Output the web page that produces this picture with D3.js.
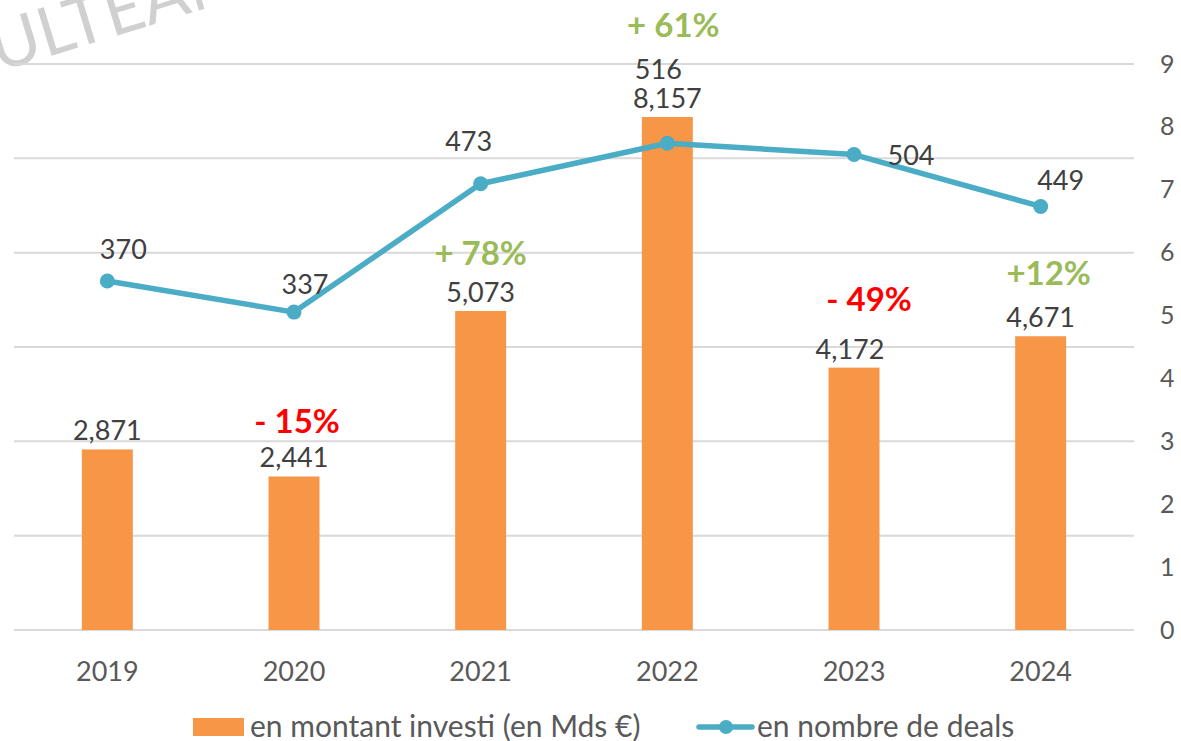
<!DOCTYPE html>
<html>
<head>
<meta charset="utf-8">
<script src="https://cdn.jsdelivr.net/npm/d3@7"></script>
<style>
  body { margin: 0; background: #fff; }
  svg text { font-family: Lato, "Open Sans", sans-serif; }
</style>
</head>
<body>
<div id="chart"></div>
<script>
// Data
var years = ["2019", "2020", "2021", "2022", "2023", "2024"];
var amounts = [2.871, 2.441, 5.073, 8.157, 4.172, 4.671];
var amountLabels = ["2,871", "2,441", "5,073", "8,157", "4,172", "4,671"];
var deals = [370, 337, 473, 516, 504, 449];
var growth = ["", "- 15%", "+ 78%", "+ 61%", "- 49%", "+12%"];
var rightTicks = [0, 1, 2, 3, 4, 5, 6, 7, 8, 9];
var dealGrid = [0, 100, 200, 300, 400, 500, 600];

var width = 1181;
var height = 741;
var plotLeft = 14, plotRight = 1134, plotTop = 64, plotBottom = 630;

var barColor = "#F79646";
var lineColor = "#4BACC6";
var textColor = "#404040";

var svg = d3.select("#chart").append("svg")
  .attr("width", width)
  .attr("height", height);

// watermark
svg.append("text")
  .attr("transform", "translate(-2,72) rotate(-17)")
  .attr("font-size", "68px")
  .attr("fill", "#d0d0d0")
  .text("ULTEAM");

/* Scales */
var xScale = d3.scaleBand()
  .domain(years)
  .range([plotLeft, plotRight]);

var yRight = d3.scaleLinear()
  .domain([0, 9])
  .range([plotBottom, plotTop]);

var yDeals = d3.scaleLinear()
  .domain([0, 600])
  .range([plotBottom, plotTop]);

// gridlines (primary axis, hidden labels)
svg.append("g").selectAll("line")
  .data(dealGrid).enter()
  .append("line")
  .attr("x1", plotLeft)
  .attr("x2", plotRight)
  .attr("y1", d => yDeals(d))
  .attr("y2", d => yDeals(d))
  .attr("stroke", "#d9d9d9")
  .attr("stroke-width", 2);

// right axis
var rightAxis = d3.axisRight(yRight).tickValues(rightTicks).tickSize(0).tickPadding(26);
var rightGroup = svg.append("g")
  .attr("transform", `translate(${plotRight}, 0)`)
  .call(rightAxis);
rightGroup.select(".domain").remove();
rightGroup.selectAll("text")
  .attr("font-size", "25px")
  .attr("fill", "#595959")
  .attr("font-family", "Lato, sans-serif");

// x axis
var xAxis = d3.axisBottom(xScale).tickSize(0).tickPadding(32);
var xGroup = svg.append("g")
  .attr("transform", `translate(0, ${plotBottom})`)
  .call(xAxis);
xGroup.select(".domain").remove();
xGroup.selectAll("text")
  .attr("font-size", "27px")
  .attr("fill", "#595959")
  .attr("font-family", "Lato, sans-serif");

var barW = 51;

// bars
svg.append("g").selectAll("rect")
  .data(amounts).enter()
  .append("rect")
  .attr("x", (d, i) => xScale(years[i]) + xScale.bandwidth() / 2 - barW / 2)
  .attr("y", d => yRight(d))
  .attr("width", barW)
  .attr("height", d => plotBottom - yRight(d))
  .attr("fill", barColor);

// bar labels
svg.append("g").selectAll("text")
  .data(amounts).enter()
  .append("text")
  .attr("x", (d, i) => xScale(years[i]) + xScale.bandwidth() / 2 + (i === 4 ? -4 : 0))
  .attr("y", d => yRight(d) - 9)
  .attr("text-anchor", "middle")
  .attr("font-size", "27px")
  .attr("fill", textColor)
  .text((d, i) => amountLabels[i]);

// line
var line = d3.line()
  .x((d, i) => xScale(years[i]) + xScale.bandwidth() / 2)
  .y(d => yDeals(d));

svg.append("path")
  .datum(deals)
  .attr("d", line)
  .attr("fill", "none")
  .attr("stroke", lineColor)
  .attr("stroke-width", 5.5)
  .attr("stroke-linejoin", "round");

svg.append("g").selectAll("circle")
  .data(deals).enter()
  .append("circle")
  .attr("cx", (d, i) => xScale(years[i]) + xScale.bandwidth() / 2)
  .attr("cy", d => yDeals(d))
  .attr("r", 7.5)
  .attr("fill", lineColor);

// line labels (offsets relative to each point)
var dealOffsets = [[16, -22], [11, -18], [-12, -33], [-9, -64], [57, 10], [20, -16]];
svg.append("g").selectAll("text")
  .data(deals).enter()
  .append("text")
  .attr("x", (d, i) => xScale(years[i]) + xScale.bandwidth() / 2 + dealOffsets[i][0])
  .attr("y", (d, i) => yDeals(d) + dealOffsets[i][1])
  .attr("text-anchor", "middle")
  .attr("font-size", "27px")
  .attr("fill", textColor)
  .text(d => d);

// growth labels
var growthY = [0, 433, 265, 37, 311, 285];
var growthDx = [0, 3, 0, 6, 15, 8];
svg.append("g").selectAll("text")
  .data(growth).enter()
  .append("text")
  .attr("x", (d, i) => xScale(years[i]) + xScale.bandwidth() / 2 + growthDx[i])
  .attr("y", (d, i) => growthY[i])
  .attr("text-anchor", "middle")
  .attr("font-size", "33px")
  .attr("font-weight", "bold")
  .attr("fill", d => d.charAt(0) === "-" ? "#FF0000" : "#9BBB59")
  .text(d => d);

// legend
var legend = svg.append("g");
legend.append("rect")
  .attr("x", 193).attr("y", 718)
  .attr("width", 51).attr("height", 18)
  .attr("fill", barColor);
legend.append("text")
  .attr("x", 250).attr("y", 737)
  .attr("font-size", "30px")
  .attr("fill", "#595959")
  .text("en montant investi (en Mds €)");
legend.append("line")
  .attr("x1", 699).attr("x2", 752)
  .attr("y1", 727).attr("y2", 727)
  .attr("stroke", lineColor)
  .attr("stroke-width", 5.5)
  .attr("stroke-linecap", "round");
legend.append("circle")
  .attr("cx", 726).attr("cy", 727).attr("r", 7)
  .attr("fill", lineColor);
legend.append("text")
  .attr("x", 757).attr("y", 737)
  .attr("font-size", "30px")
  .attr("fill", "#595959")
  .text("en nombre de deals");
</script>
</body>
</html>
